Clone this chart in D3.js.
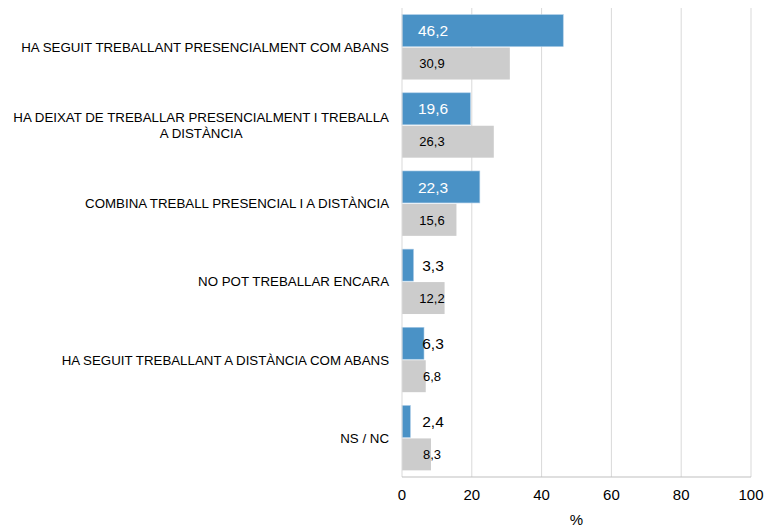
<!DOCTYPE html>
<html>
<head>
<meta charset="utf-8">
<script src="https://cdn.jsdelivr.net/npm/d3@7"></script>
<style>
  body { margin: 0; background: #fff; }
  svg { display: block; font-family: "Liberation Sans", Arial, sans-serif; }
</style>
</head>
<body>
<div id="chart"></div>
<script>
const categories = [
  ['HA SEGUIT TREBALLANT PRESENCIALMENT COM ABANS'],
  ['HA DEIXAT DE TREBALLAR PRESENCIALMENT I TREBALLA', 'A DISTÀNCIA'],
  ['COMBINA TREBALL PRESENCIAL I A DISTÀNCIA'],
  ['NO POT TREBALLAR ENCARA'],
  ['HA SEGUIT TREBALLANT A DISTÀNCIA COM ABANS'],
  ['NS / NC']
];
const blueValues = [46.2, 19.6, 22.3, 3.3, 6.3, 2.4];
const grayValues = [30.9, 26.3, 15.6, 12.2, 6.8, 8.3];
const xTicks = [0, 20, 40, 60, 80, 100];
const xTitle = '%';

const width = 767, height = 528;
const margin = { top: 8, right: 16, bottom: 51, left: 402 };
const chartWidth = width - margin.left - margin.right;
const chartHeight = height - margin.top - margin.bottom;

const svg = d3.select('#chart').append('svg')
  .attr('width', width)
  .attr('height', height);

const chart = svg.append('g')
  .attr('transform', `translate(${margin.left}, ${margin.top})`);

const x = d3.scaleLinear().domain([0, 100]).range([0, chartWidth]);

const y = d3.scaleBand()
  .domain(d3.range(categories.length))
  .range([0, chartHeight])
  .paddingInner(0.17)
  .paddingOuter(0.085);

const sub = d3.scaleBand()
  .domain(['blue', 'gray'])
  .range([0, y.bandwidth()])
  .paddingInner(0.03);

// gridlines
chart.append('g')
  .selectAll('line')
  .data(xTicks.slice(1))
  .join('line')
  .attr('x1', d => x(d)).attr('x2', d => x(d))
  .attr('y1', 0).attr('y2', chartHeight)
  .attr('stroke', '#d9d9d9')
  .attr('stroke-width', 1);

const rows = categories.map((c, i) => ({ i, label: c, blue: blueValues[i], gray: grayValues[i] }));

const groups = chart.selectAll('.row')
  .data(rows)
  .join('g')
  .attr('class', 'row')
  .attr('transform', d => `translate(0, ${y(d.i)})`);

groups.append('rect')
  .attr('x', x(0))
  .attr('y', sub('blue'))
  .attr('width', d => x(d.blue) - x(0))
  .attr('height', sub.bandwidth())
  .attr('fill', '#4a92c6')
  .attr('stroke', '#a9cbe6')
  .attr('stroke-width', 0.6);

groups.append('rect')
  .attr('x', x(0))
  .attr('y', sub('gray'))
  .attr('width', d => x(d.gray) - x(0))
  .attr('height', sub.bandwidth())
  .attr('fill', '#cccccc');

const fmt = v => d3.format('.1f')(v).replace('.', ',');
const labelX = x(0) + 31;

groups.append('text')
  .attr('x', labelX)
  .attr('y', sub('blue') + sub.bandwidth() / 2)
  .attr('dy', '0.36em')
  .attr('text-anchor', 'middle')
  .attr('font-size', 15.5)
  .text(d => fmt(d.blue))
  .attr('fill', function(d) {
    const w = this.getComputedTextLength();
    return x(d.blue) > labelX + w / 2 + 2 ? '#ffffff' : '#000000';
  });

groups.append('text')
  .attr('x', labelX - 1)
  .attr('y', sub('gray') + sub.bandwidth() / 2)
  .attr('dy', '0.36em')
  .attr('text-anchor', 'middle')
  .attr('font-size', 13)
  .attr('fill', '#000')
  .text(d => fmt(d.gray));

// axes lines
chart.append('line')
  .attr('x1', 0).attr('x2', 0)
  .attr('y1', 0).attr('y2', chartHeight)
  .attr('stroke', '#d9d9d9');

chart.append('line')
  .attr('x1', 0).attr('x2', chartWidth)
  .attr('y1', chartHeight).attr('y2', chartHeight)
  .attr('stroke', '#bfbfbf');

// x axis labels
chart.append('g')
  .selectAll('text')
  .data(xTicks)
  .join('text')
  .attr('x', d => x(d))
  .attr('y', chartHeight + 18)
  .attr('dy', '0.36em')
  .attr('text-anchor', 'middle')
  .attr('font-size', 15)
  .attr('fill', '#000')
  .text(d => d);

chart.append('text')
  .attr('x', x(50))
  .attr('y', chartHeight + 43)
  .attr('dy', '0.36em')
  .attr('text-anchor', 'middle')
  .attr('font-size', 15)
  .attr('fill', '#000')
  .text(xTitle);

// category labels
const catLabels = chart.append('g')
  .selectAll('text')
  .data(rows)
  .join('text')
  .attr('font-size', 13.3)
  .attr('fill', '#000')
  .attr('transform', d => `translate(-13, ${y(d.i) + y.bandwidth() / 2})`);

catLabels.each(function(d) {
  const t = d3.select(this);
  const n = d.label.length;
  const lineH = 16.5;
  const first = t.append('tspan')
    .attr('x', 0)
    .attr('y', -(n - 1) * lineH / 2)
    .attr('dy', '0.36em')
    .attr('text-anchor', 'end')
    .text(d.label[0]);
  const w = first.node().getComputedTextLength();
  d.label.slice(1).forEach((line, k) => {
    t.append('tspan')
      .attr('x', -w / 2)
      .attr('y', -(n - 1) * lineH / 2 + (k + 1) * lineH)
      .attr('dy', '0.36em')
      .attr('text-anchor', 'middle')
      .text(line);
  });
});
</script>
</body>
</html>
